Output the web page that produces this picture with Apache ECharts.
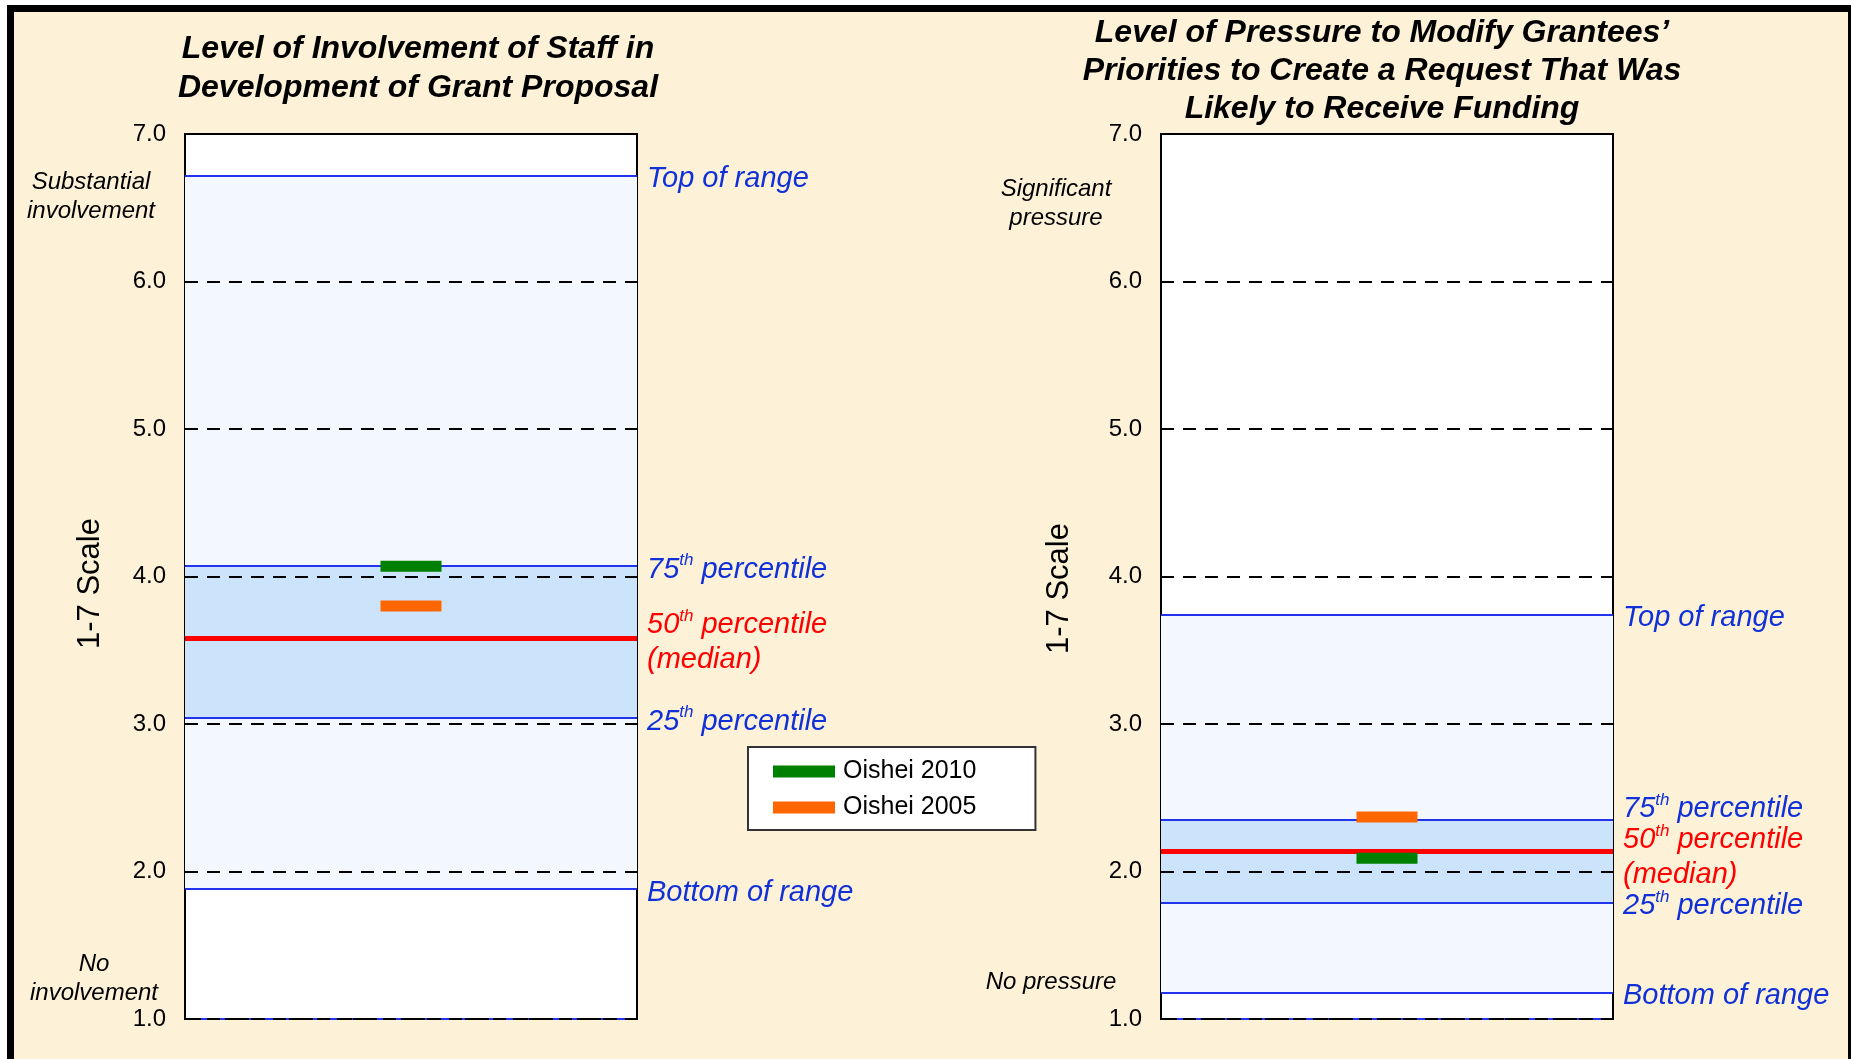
<!DOCTYPE html>
<html>
<head>
<meta charset="utf-8">
<title>Grant proposal ratings</title>
<script src="https://cdn.jsdelivr.net/npm/echarts@6/dist/echarts.min.js"></script>
<style>
  html, body { margin: 0; padding: 0; background: #fff; }
  #main { width: 1851px; height: 1059px; }
</style>
</head>
<body>
<div id="main"></div>
<script type="text/javascript">
    // values, one entry per panel
    var titles = [
        'Level of Involvement of Staff in\nDevelopment of Grant Proposal',
        'Level of Pressure to Modify Grantees’\nPriorities to Create a Request That Was\nLikely to Receive Funding'
    ];
    var topNotes = ['Substantial\ninvolvement', 'Significant\npressure'];
    var bottomNotes = ['No\ninvolvement', 'No pressure'];
    var topRange = [6.72, 3.74];
    var pct75 = [4.07, 2.35];
    var median = [3.58, 2.14];
    var pct25 = [3.04, 1.79];
    var bottomRange = [1.88, 1.18];
    var oishei2010 = [4.07, 2.09];
    var oishei2005 = [3.80, 2.37];
    var yMin = 1, yMax = 7, yStep = 1;
    var seriesNames = ['Oishei 2010', 'Oishei 2005'];

    var FONT = '"Liberation Sans", Arial, sans-serif';
    var BLUE = '#1030d8';
    var LINE_BLUE = '#2233ee';
    var RED = '#ff0000';

    var gridLeft = [185, 1161];
    var nameGap = [79, 86];
    var namePad = [[0, 14, 0, 0], [0, 24, 0, 0]];
    // small vertical nudges of the line labels (padding keeps them tied to the line)
    var p75Pad = [[7, 0, 0, 0], [0, 0, 22, 0]];
    var medPad = [[8, 0, 0, 0], [13, 0, 0, 0]];
    var stdPad = [7, 0, 0, 0];

    function richFor(color) {
        return {
            n: {fontSize: 29, fontStyle: 'italic', fontFamily: FONT, color: color, lineHeight: 35},
            s: {fontSize: 17, fontStyle: 'italic', fontFamily: FONT, color: color, lineHeight: 18, verticalAlign: 'top'}
        };
    }
    function lineLabel(text, color, pad) {
        return {
            show: true, position: 'end', distance: 10, padding: pad,
            formatter: text, rich: richFor(color),
            fontSize: 29, fontStyle: 'italic', fontFamily: FONT, color: color
        };
    }

    var grids = [], xAxes = [], yAxes = [], series = [], texts = [];
    for (var i = 0; i < 2; i++) {
        grids.push({
            left: gridLeft[i], top: 134, width: 452, height: 885,
            show: true, backgroundColor: '#fff', borderColor: '#000', borderWidth: 2,
            outerBoundsMode: 'none'
        });
        xAxes.push({gridIndex: i, type: 'value', min: 0, max: 1, show: false});
        yAxes.push({
            gridIndex: i, type: 'value', min: yMin, max: yMax, interval: yStep, z: 3,
            name: '1-7 Scale', nameLocation: 'middle', nameRotate: 90, nameGap: nameGap[i],
            nameTextStyle: {fontSize: 31, color: '#000', fontFamily: FONT, padding: namePad[i]},
            axisLine: {show: false}, axisTick: {show: false},
            axisLabel: {
                fontSize: 24, color: '#000', fontFamily: FONT, margin: 19,
                formatter: function (v) { return v.toFixed(1); }
            },
            splitLine: {show: true, lineStyle: {color: '#000', width: 2, type: [13, 9]}}
        });

        series.push({
            type: 'line', xAxisIndex: i, yAxisIndex: i, z: 2, silent: true,
            symbol: 'none', animation: false,
            data: [[0, yMin], [1, yMin]],
            lineStyle: {color: LINE_BLUE, width: 2, type: [8, 8]},
            markArea: {
                silent: true,
                data: [
                    [{yAxis: bottomRange[i], itemStyle: {color: '#f3f8fe'}}, {yAxis: topRange[i]}],
                    [{yAxis: pct25[i], itemStyle: {color: '#cce4fb'}}, {yAxis: pct75[i]}]
                ]
            },
            markLine: {
                silent: true, symbol: ['none', 'none'], animation: false,
                data: [
                    {yAxis: topRange[i], lineStyle: {color: LINE_BLUE, width: 2, type: 'solid'},
                     label: lineLabel('{n|Top of range}', BLUE, stdPad)},
                    {yAxis: pct75[i], lineStyle: {color: LINE_BLUE, width: 2, type: 'solid'},
                     label: lineLabel('{n|75}{s|th}{n| percentile}', BLUE, p75Pad[i])},
                    {yAxis: pct25[i], lineStyle: {color: LINE_BLUE, width: 2, type: 'solid'},
                     label: lineLabel('{n|25}{s|th}{n| percentile}', BLUE, stdPad)},
                    {yAxis: bottomRange[i], lineStyle: {color: LINE_BLUE, width: 2, type: 'solid'},
                     label: lineLabel('{n|Bottom of range}', BLUE, stdPad)},
                    {yAxis: median[i], lineStyle: {color: RED, width: 5, type: 'solid'},
                     label: lineLabel('{n|50}{s|th}{n| percentile}\n{n|(median)}', RED, medPad[i])}
                ]
            }
        });
        series.push({
            type: 'scatter', name: seriesNames[0], xAxisIndex: i, yAxisIndex: i, z: 5,
            symbol: 'rect', symbolSize: [61, 11], itemStyle: {color: '#008000', opacity: 1},
            data: [[0.5, oishei2010[i]]]
        });
        series.push({
            type: 'scatter', name: seriesNames[1], xAxisIndex: i, yAxisIndex: i, z: 5,
            symbol: 'rect', symbolSize: [61, 11], itemStyle: {color: '#ff6600', opacity: 1},
            data: [[0.5, oishei2005[i]]]
        });
    }

    function textBlock(text, x, y, size, lh, weight) {
        return {
            text: text, left: x, top: y, textAlign: 'center', padding: 0,
            textStyle: {fontSize: size, lineHeight: lh, fontStyle: 'italic', fontWeight: weight,
                        color: '#000', fontFamily: FONT}
        };
    }
    texts.push(textBlock(titles[0], 418, 30, 32, 39, 'bold'));
    texts.push(textBlock(titles[1], 1382, 14, 32, 38, 'bold'));
    texts.push(textBlock(topNotes[0], 91, 168, 24, 29, 'normal'));
    texts.push(textBlock(bottomNotes[0], 94, 950, 24, 29, 'normal'));
    texts.push(textBlock(topNotes[1], 1056, 175, 24, 29, 'normal'));
    texts.push(textBlock(bottomNotes[1], 1051, 968, 24, 29, 'normal'));

    var myChart = echarts.init(document.getElementById('main'));
    myChart.setOption({
        backgroundColor: '#fff',
        animation: false,
        title: texts,
        graphic: [{
            type: 'rect', z: -10, silent: true,
            shape: {x: 10.5, y: 8.5, width: 1841, height: 1100},
            style: {fill: '#fdf2d7', stroke: '#000', lineWidth: 7}
        }],
        legend: {
            data: seriesNames, orient: 'vertical', left: 748, top: 747,
            icon: 'rect', itemWidth: 62, itemHeight: 12, itemGap: 11,
            padding: [12, 59, 10, 25],
            backgroundColor: '#fff', borderColor: '#333', borderWidth: 2, borderRadius: 0,
            textStyle: {fontSize: 25, color: '#000', fontFamily: FONT, padding: [0, 0, 0, 3]}
        },
        grid: grids,
        xAxis: xAxes,
        yAxis: yAxes,
        series: series
    });
</script>
</body>
</html>
